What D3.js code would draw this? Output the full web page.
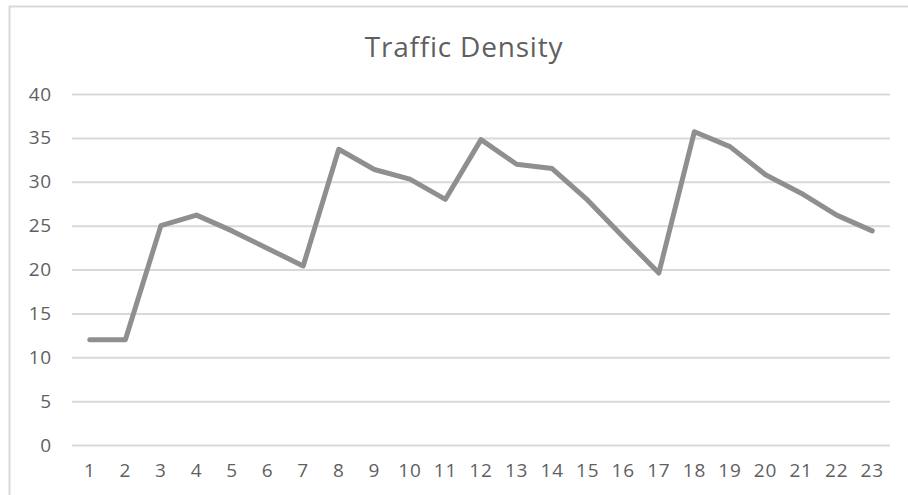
<!DOCTYPE html>
<html>
<head>
<meta charset="utf-8">
<script src="https://cdn.jsdelivr.net/npm/d3@7"></script>
<style>
  body { margin: 0; background: #fff; }
  text { font-family: "Open Sans", sans-serif; fill: #5f5f5f; }
</style>
</head>
<body>
<div id="chart"></div>
<script>
// chart data
const title = "Traffic Density";
const hours = d3.range(1, 24).map(String);
const density = [12.0, 12.0, 25.0, 26.2, 24.4, 22.4, 20.4, 33.7, 31.4, 30.3, 28.0,
  34.8, 32.0, 31.5, 27.9, 23.7, 19.6, 35.7, 34.0, 30.8, 28.7, 26.2, 24.4];
const yTicks = [0, 5, 10, 15, 20, 25, 30, 35, 40];

const width = 908, height = 495;
const margin = {top: 94, right: 18, bottom: 50, left: 72};

const data = hours.map((h, i) => ({hour: h, value: density[i]}));

const x = d3.scaleBand()
    .domain(hours)
    .range([margin.left, width - margin.right]);

const y = d3.scaleLinear()
    .domain([0, 40])
    .range([height - margin.bottom, margin.top]);

const svg = d3.create("svg")
    .attr("width", width)
    .attr("height", height)
    .attr("viewBox", [0, 0, width, height]);

// chart frame (cropped on the right and bottom)
svg.append("path")
    .attr("d", `M9.5,${height} V6.5 H${width}`)
    .attr("fill", "none")
    .attr("stroke", "#d9d9d9")
    .attr("stroke-width", 2);

svg.append("text")
    .attr("x", 464)
    .attr("y", 57)
    .attr("text-anchor", "middle")
    .style("font-size", "28px")
    .style("letter-spacing", "0.8px")
    .text(title);

const tickFont = g => g
    .attr("fill", "#5f5f5f")
    .style("font-family", "'Open Sans', sans-serif")
    .style("font-size", "19px")
    .style("letter-spacing", "0.8px");

// gridlines + y labels
const yAxis = g => g
    .attr("transform", `translate(${margin.left},0)`)
    .call(d3.axisLeft(y).tickValues(yTicks).tickSize(-(width - margin.left - margin.right)).tickPadding(20))
    .call(g => g.select(".domain").remove())
    .call(g => g.selectAll(".tick line").attr("stroke", "#d9d9d9").attr("stroke-width", 2))
    .call(g => g.selectAll(".tick text").call(tickFont));

const xAxis = g => g
    .attr("transform", `translate(0,${height - margin.bottom})`)
    .call(d3.axisBottom(x).tickSize(0).tickPadding(19))
    .call(g => g.select(".domain").remove())
    .call(g => g.selectAll(".tick text").call(tickFont));

svg.append("g").attr("class", "y-axis").call(yAxis);
svg.append("g").attr("class", "x-axis").call(xAxis);

const line = d3.line()
    .x(d => x(d.hour) + x.bandwidth() / 2)
    .y(d => y(d.value));

svg.append("path")
    .datum(data)
    .attr("fill", "none")
    .attr("stroke", "#8f8f8f")
    .attr("stroke-width", 5)
    .attr("stroke-linejoin", "round")
    .attr("stroke-linecap", "round")
    .attr("d", line);

d3.select("#chart").append(() => svg.node());
</script>
</body>
</html>
